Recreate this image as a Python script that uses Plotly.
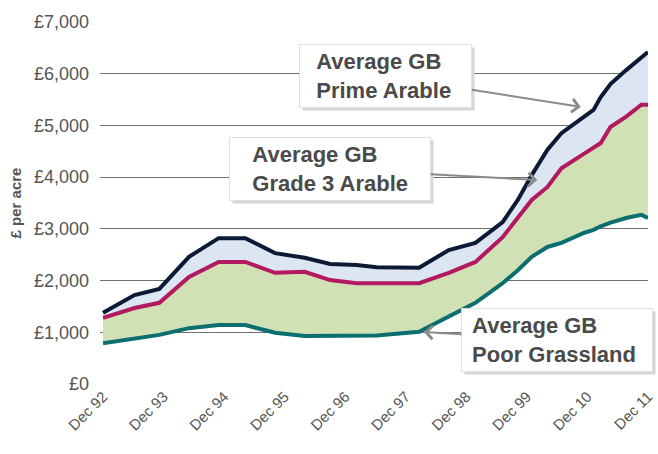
import plotly.graph_objects as go

# Period position (label units: 0 = Dec 92 ... 9 = Dec 11)
period = [0, 0.52, 0.93, 1.42, 1.91, 2.35, 2.84, 3.33, 3.75, 4.19, 4.52, 5.22, 5.71,
          6.15, 6.60, 6.85, 7.08, 7.34, 7.57, 7.94, 8.10, 8.22, 8.38, 8.64, 8.89, 9.0]

prime_arable = [1380, 1720, 1840, 2460, 2820, 2820, 2530, 2440, 2320, 2300, 2260, 2250, 2590,
                2730, 3130, 3560, 4040, 4530, 4850, 5150, 5300, 5550, 5800, 6070, 6330, 6420]

grade3_arable = [1280, 1470, 1570, 2070, 2360, 2360, 2150, 2170, 2010, 1950, 1950, 1950, 2150,
                 2360, 2840, 3230, 3560, 3810, 4170, 4450, 4580, 4660, 4970, 5170, 5400, 5400]

poor_grassland = [790, 890, 950, 1080, 1140, 1140, 990, 930, 930, 930, 940, 1010, 1300,
                  1570, 1950, 2200, 2460, 2650, 2730, 2920, 2980, 3050, 3120, 3210, 3270, 3210]

tick_labels = ["Dec 92", "Dec 93", "Dec 94", "Dec 95", "Dec 96", "Dec 97",
               "Dec 98", "Dec 99", "Dec 10", "Dec 11"]
y_ticks = [0, 1000, 2000, 3000, 4000, 5000, 6000, 7000]
y_tick_labels = ["£0", "£1,000", "£2,000", "£3,000", "£4,000", "£5,000", "£6,000", "£7,000"]

NAVY = "#0c1a36"
MAGENTA = "#b3195e"
TEAL = "#0d6e6f"
GREEN_FILL = "#cfe1b5"
BLUE_FILL = "#dce6f2"
TEXT = "#4a4a4a"

fig = go.Figure()
fig.add_trace(go.Scatter(x=period, y=poor_grassland, mode="lines",
                         line=dict(color=TEAL, width=4), name="Poor Grassland"))
fig.add_trace(go.Scatter(x=period, y=grade3_arable, mode="lines", fill="tonexty",
                         fillcolor=GREEN_FILL, line=dict(color=MAGENTA, width=4),
                         name="Grade 3 Arable"))
fig.add_trace(go.Scatter(x=period, y=prime_arable, mode="lines", fill="tonexty",
                         fillcolor=BLUE_FILL, line=dict(color=NAVY, width=4),
                         name="Prime Arable"))

font_family = "Liberation Sans, Arial, sans-serif"
NB = "\u00a0"


def label(lines, x, y, ax, ay, box_w, indent):
    pad = NB * indent
    text = "<b>" + "<br>".join(pad + ln for ln in lines) + "</b>"
    shadow = dict(x=x, y=y, xref="x", yref="y", text=text, showarrow=False,
                  xshift=ax + 3, yshift=-ay - 3, width=box_w, align="left",
                  font=dict(family=font_family, size=22, color="rgba(0,0,0,0)"),
                  bgcolor="#d6d6d6", borderpad=4, borderwidth=1,
                  bordercolor="rgba(0,0,0,0)")
    main = dict(x=x, y=y, xref="x", yref="y", text=text, showarrow=True,
                ax=ax, ay=ay, arrowhead=4, arrowsize=1.3, arrowwidth=2,
                arrowcolor="#8a8a8a", width=box_w, align="left",
                font=dict(family=font_family, size=22, color=TEXT),
                bgcolor="white", bordercolor="#e0e0e0", borderwidth=1, borderpad=4)
    return [shadow, main]


annotations = []
annotations += label(["Average GB", "Prime Arable"], 7.89, 5357, -195, -31, 163, 2)
annotations += label(["Average GB", "Grade 3 Arable"], 7.17, 3945, -207, -11, 192, 3)
annotations += label(["Average GB", "Poor Grassland"], 5.30, 1006, 133, 8, 182, 1)

fig.update_layout(
    width=658, height=454,
    margin=dict(l=100, r=3, t=22, b=70),
    paper_bgcolor="white", plot_bgcolor="white",
    showlegend=False,
    font=dict(family=font_family, color="#555555"),
    annotations=annotations,
    xaxis=dict(range=[-0.05, 9.0], tickmode="array", tickvals=list(range(10)),
               ticktext=tick_labels, tickangle=-45, showgrid=False, zeroline=False,
               showline=False, ticks="", ticklabeloverflow="allow",
               tickfont=dict(size=15, color="#555555")),
    yaxis=dict(range=[0, 7000], tickmode="array", tickvals=y_ticks,
               ticktext=y_tick_labels, showgrid=True, gridcolor="#707070", gridwidth=1,
               zeroline=False, showline=False, ticks="", ticklabelstandoff=10,
               tickfont=dict(size=18, color="#555555"),
               title=dict(text="<b>£ per acre</b>", font=dict(size=15, color="#555555"),
                          standoff=8)),
)

fig.write_html("out.html",
               config={"displayModeBar": False},
               post_script="document.body.style.margin='0';document.body.style.overflow='hidden';")
